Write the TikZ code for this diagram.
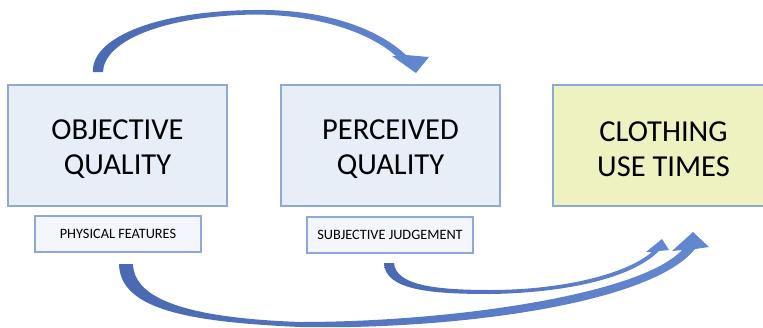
\documentclass[tikz,border=0pt]{standalone}
\usepackage{fontspec}
\setmainfont{Carlito}
\usetikzlibrary{calc}
\definecolor{boxfill}{HTML}{E7EEF8}
\definecolor{boxline}{HTML}{8EA8D8}
\definecolor{yfill}{HTML}{EEF2C1}
\definecolor{subfill}{HTML}{F3F6FC}
\definecolor{arrowdark}{HTML}{4A69B2}
\definecolor{arrowlight}{HTML}{6487D2}
\begin{document}
\begin{tikzpicture}[x=1pt,y=-1pt,
  bigbox/.style={draw=boxline, line width=1.3pt, fill=boxfill, minimum width=219pt,
    minimum height=121pt, inner sep=0pt},
  bigtext/.style={inner sep=0pt, align=center, font=\fontsize{30.5}{35}\selectfont},
  subbox/.style={draw=boxline, line width=1.2pt, fill=subfill, minimum width=166pt,
    minimum height=36pt, inner sep=0pt, font=\fontsize{14.3}{16}\selectfont},
  blockarrow/.style={left color=arrowdark, right color=arrowlight, draw=none}]
\path[use as bounding box] (0,0) rectangle (763,327);
\clip (0,0) rectangle (763,327);

% boxes
\node[bigbox] (obj) at (117.5,145.5) {};
\node[bigbox] (per) at (390.5,145.5) {};
\node[bigbox, fill=yfill] (use) at (662.5,145.5) {};
\node[bigtext] (objt) at ($(obj.center)+(0,4)$) {OBJECTIVE\\QUALITY};
\node[bigtext] (pert) at ($(per.center)+(0,4)$) {PERCEIVED\\QUALITY};
\node[bigtext] (uset) at ($(use.center)+(1,4)$) {CLOTHING\\USE TIMES};
\node[subbox] (phy) at (118,234) {PHYSICAL FEATURES};
\node[subbox] (sub) at (390,235) {SUBJECTIVE JUDGEMENT};

% top arrow: objective -> perceived
\shade[blockarrow] (93,72) .. controls (91,40) and (150,11) .. (255,10)
  .. controls (322,9) and (376,27) .. (406,55)
  -- (429,57) -- (416,73) -- (392,56) -- (396,56)
  .. controls (370,33) and (320,15) .. (255,14.5)
  .. controls (160,16) and (104,42) .. (103,72) -- cycle;

% bottom big arrow: physical features -> clothing use times
\shade[blockarrow] (119,264) .. controls (120,310) and (190,322) .. (300,327)
  .. controls (450,330) and (650,305) .. (695,249)
  -- (709,247) -- (693,232) -- (672,251) -- (682,250)
  .. controls (640,295) and (450,322) .. (300,322)
  .. controls (190,318) and (134,300) .. (133,264) -- cycle;

% middle arrow: subjective judgement -> clothing use times
\shade[blockarrow] (384,263) .. controls (385,290) and (430,294) .. (490,294)
  .. controls (560,293) and (630,280) .. (659,251)
  -- (669,250) -- (662,239) -- (646,252) -- (652,252)
  .. controls (625,275) and (560,290) .. (490,290)
  .. controls (430,290) and (396,284) .. (394,263) -- cycle;
\end{tikzpicture}
\end{document}
